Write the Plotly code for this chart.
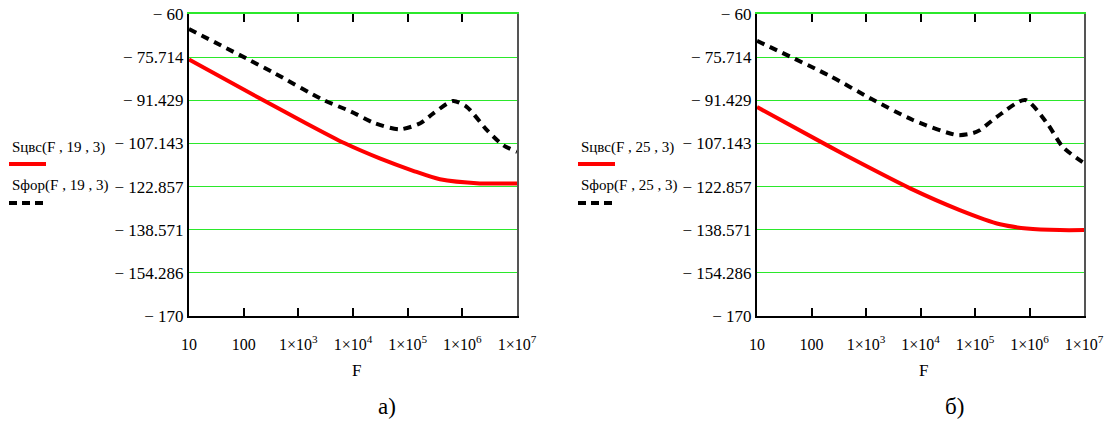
import plotly.graph_objects as go

# ---- data: spectral densities, dB, versus frequency F ----
F_a_red = [10, 200, 1070, 7080, 30900, 126000, 389000, 2.09e6, 1e7]
S_a_red = [-76.6, -90.8, -98.6, -107.1, -112.6, -117.1, -120.2, -121.7, -121.7]

F_a_blk = [10, 115, 347, 2950, 9120, 25100, 72400, 170000, 295000, 676000, 1.2e6, 2.82e6, 5.5e6, 1e7]
S_a_blk = [-65.5, -76.3, -81.3, -91.4, -95.5, -99.8, -102.0, -99.8, -96.2, -91.7, -93.8, -102.3, -107.7, -110.2]

F_b_red = [10, 219, 776, 6460, 52500, 288000, 891000, 3.63e6, 1e7]
S_b_red = [-93.9, -108.4, -114.2, -123.5, -131.4, -136.6, -138.1, -138.7, -138.7]

F_b_blk = [10, 219, 1170, 7240, 46800, 91200, 123000, 251000, 832000, 2.09e6, 4.07e6, 1e7]
S_b_blk = [-69.8, -82.6, -90.6, -98.6, -104.1, -103.4, -102.3, -97.5, -91.3, -99.7, -108.4, -114.3]

y_ticks = [-60, -75.714, -91.429, -107.143, -122.857, -138.571, -154.286, -170]
y_text = ["\u2212 60", "\u2212 75.714", "\u2212 91.429", "\u2212 107.143",
          "\u2212 122.857", "\u2212 138.571", "\u2212 154.286", "\u2212 170"]
x_ticks = [10, 100, 1e3, 1e4, 1e5, 1e6, 1e7]
x_text = ["10", "100", "1\u00d710<sup>3</sup>", "1\u00d710<sup>4</sup>",
          "1\u00d710<sup>5</sup>", "1\u00d710<sup>6</sup>", "1\u00d710<sup>7</sup>"]

legend_a = ["S\u0446\u0432\u0441(F , 19 , 3)", "S\u0444\u043e\u0440(F , 19 , 3)"]
legend_b = ["S\u0446\u0432\u0441(F , 25 , 3)", "S\u0444\u043e\u0440(F , 25 , 3)"]
captions = ["\u0430)", "\u0431)"]

W, H = 1111, 421
SERIF = "Liberation Serif"
GREEN = "#2be82b"
RED = "#ff0000"


def px(x):
    return x / W


def py(y):
    return 1 - y / H


fig = go.Figure()

red_style = dict(color=RED, width=4, shape="spline", smoothing=0.7)
blk_style = dict(color="black", width=4, dash="8px,6px", shape="spline", smoothing=0.7)

fig.add_trace(go.Scatter(x=F_a_red, y=S_a_red, mode="lines", line=red_style, xaxis="x", yaxis="y"))
fig.add_trace(go.Scatter(x=F_a_blk, y=S_a_blk, mode="lines", line=blk_style, xaxis="x", yaxis="y"))
fig.add_trace(go.Scatter(x=F_b_red, y=S_b_red, mode="lines", line=red_style, xaxis="x2", yaxis="y2"))
fig.add_trace(go.Scatter(x=F_b_blk, y=S_b_blk, mode="lines", line=blk_style, xaxis="x2", yaxis="y2"))

panels = [(189, 517), (757, 1084)]
top, bottom = 14, 316
ydom = [py(bottom), py(top)]

layout = dict(
    width=W, height=H,
    margin=dict(l=0, r=0, t=0, b=0, autoexpand=False),
    paper_bgcolor="white", plot_bgcolor="white",
    showlegend=False,
    font=dict(family=SERIF, size=16, color="black"),
)

for i, (x0, x1) in enumerate(panels):
    n = "" if i == 0 else "2"
    top_n = str(3 + 2 * i)
    right_n = str(4 + 2 * i)
    xdom = [px(x0), px(x1)]
    layout["xaxis" + n] = dict(
        type="log", range=[1, 7], domain=xdom, anchor="y" + n, automargin=False,
        showgrid=False, zeroline=False,
        showline=True, linecolor="black", linewidth=2,
        ticks="inside", ticklen=8, tickwidth=1.5, tickcolor="black",
        tickvals=x_ticks, ticktext=x_text,
        tickfont=dict(family=SERIF, size=16, color="black"),
        ticklabelstandoff=13,
    )
    layout["yaxis" + n] = dict(
        range=[-170, -60], domain=ydom, anchor="x" + n, automargin=False,
        showgrid=True, gridcolor=GREEN, gridwidth=1.2, zeroline=False,
        showline=True, linecolor="black", linewidth=2,
        ticks="", tickvals=y_ticks, ticktext=y_text,
        tickfont=dict(family=SERIF, size=17, color="black"),
        ticklabelstandoff=0,
    )
    # top frame edge with inward decade ticks
    layout["xaxis" + top_n] = dict(
        type="log", range=[1, 7], domain=xdom, anchor="y" + n, automargin=False,
        overlaying="x" + n, side="top",
        showgrid=False, zeroline=False,
        showline=True, linecolor=GREEN, linewidth=2,
        ticks="inside", ticklen=8, tickwidth=1.5, tickcolor="black",
        tickvals=x_ticks, showticklabels=False,
    )
    # right frame edge
    layout["yaxis" + right_n] = dict(
        range=[-170, -60], domain=ydom, anchor="x" + n, automargin=False,
        overlaying="y" + n, side="right",
        showgrid=False, zeroline=False,
        showline=True, linecolor="#555555", linewidth=2,
        ticks="", showticklabels=False,
    )

fig.update_layout(**layout)

# empty traces so the frame axes are drawn
for i in range(2):
    fig.add_trace(go.Scatter(x=[], y=[], xaxis="x" + str(3 + 2 * i),
                             yaxis="y" + ("" if i == 0 else "2"), hoverinfo="skip"))
    fig.add_trace(go.Scatter(x=[], y=[], xaxis="x" + ("" if i == 0 else "2"),
                             yaxis="y" + str(4 + 2 * i), hoverinfo="skip"))


def label(x, y, text, size, xanchor="center"):
    return dict(x=px(x), y=py(y), xref="paper", yref="paper", text=text,
                xanchor=xanchor, yanchor="middle", showarrow=False,
                font=dict(family=SERIF, size=size, color="black"))


annotations = []
shapes = []
for (x0, x1), leg, cap, lx in zip(panels, [legend_a, legend_b], captions, [10, 579]):
    cx = (x0 + x1) / 2
    annotations.append(label(cx + 3, 370, "F", 17))
    annotations.append(label(cx + 34, 406, cap, 23))
    annotations.append(label(lx, 147, leg[0], 15, "left"))
    annotations.append(label(lx, 185, leg[1], 15, "left"))
    shapes.append(dict(type="line", xref="paper", yref="paper",
                       x0=px(lx - 1), x1=px(lx + 36), y0=py(164), y1=py(164),
                       line=dict(color=RED, width=4)))
    shapes.append(dict(type="line", xref="paper", yref="paper",
                       x0=px(lx - 1), x1=px(lx + 36), y0=py(203), y1=py(203),
                       line=dict(color="black", width=4, dash="8px,5px")))

fig.update_layout(annotations=annotations, shapes=shapes)

fig.write_html("out.html")
